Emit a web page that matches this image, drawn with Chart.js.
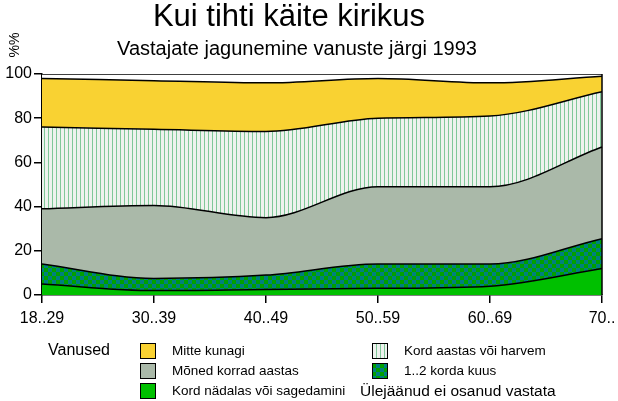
<!DOCTYPE html>
<html>
<head>
<meta charset="utf-8">
<script src="https://cdn.jsdelivr.net/npm/chart.js@4/dist/chart.umd.min.js"></script>
<style>
  html, body { margin: 0; padding: 0; background: #fff; }
  #wrap { width: 618px; height: 401px; }
</style>
</head>
<body>
<div id="wrap"><canvas id="c" width="618" height="401"></canvas></div>
<script>
const ages = ["18..29", "30..39", "40..49", "50..59", "60..69", "70.."];

// shares per age group, %
const weekly = [5, 2, 2.5, 3, 4, 12];          // Kord nädalas või sagedamini
const monthly = [9, 5.5, 6.5, 11, 10, 13.5];    // 1..2 korda kuus
const fewTimes = [25, 33, 26, 35, 35, 41.5];    // Mõned korrad aastas
const yearly = [37, 34.5, 39, 31, 32, 25];      // Kord aastas või harvem
const never = [22, 22, 22, 18, 15, 7];          // Mitte kunagi
const noAnswer = [2, 3, 4, 2, 4, 1];            // Ülejäänud ei osanud vastata

const yTicks = [0, 20, 40, 60, 80, 100];

const FONT = "'Liberation Sans', Arial, sans-serif";

function makePattern(w, h, draw) {
  const c = document.createElement("canvas");
  c.width = w; c.height = h;
  const g = c.getContext("2d");
  draw(g);
  return g.createPattern(c, "repeat");
}

const fills = {
  never: "#f9d232",
  yearly: makePattern(4, 1, (g) => {
    g.fillStyle = "#eef2ee"; g.fillRect(0, 0, 4, 1);
    g.fillStyle = "#80c898"; g.fillRect(0, 0, 1, 1);
  }),
  fewTimes: "#aab9a9",
  monthly: makePattern(8, 8, (g) => {
    g.fillStyle = "#00a000"; g.fillRect(0, 0, 8, 8);
    g.fillStyle = "#008080"; g.fillRect(4, 0, 4, 4); g.fillRect(0, 4, 4, 4);
  }),
  weekly: "#00c000",
  noAnswer: "#ffffff",
};

function ds(label, data, bg, fill) {
  return {
    label, data, backgroundColor: bg, fill,
    borderColor: "#000", borderWidth: 1.5,
    pointRadius: 0, cubicInterpolationMode: "monotone",
  };
}

const extras = {
  id: "extras",
  afterDatasetsDraw(chart) {
    const { ctx, chartArea: a } = chart;
    ctx.save();
    ctx.strokeStyle = "#000";
    ctx.lineWidth = 1.5;
    ctx.beginPath();
    ctx.moveTo(a.right, a.top);
    ctx.lineTo(a.right, a.bottom);
    ctx.stroke();
    ctx.restore();
  },
  afterDraw(chart) {
    const { ctx } = chart;
    ctx.save();
    ctx.fillStyle = "#000";
    ctx.textBaseline = "middle";
    ctx.textAlign = "center";
    ctx.font = "31px " + FONT;
    ctx.fillText("Kui tihti käite kirikus", 289, 17);
    ctx.font = "20px " + FONT;
    ctx.fillText("Vastajate jagunemine vanuste järgi 1993", 297, 49);

    ctx.save();
    ctx.translate(15, 45);
    ctx.rotate(-Math.PI / 2);
    ctx.font = "14px " + FONT;
    ctx.fillText("%%", 0, 0);
    ctx.restore();

    ctx.textAlign = "left";
    ctx.font = "16px " + FONT;
    ctx.fillText("Vanused", 48, 351);

    const items = [
      [140, 343, fills.never, "Mitte kunagi"],
      [140, 363, fills.fewTimes, "Mõned korrad aastas"],
      [140, 383, fills.weekly, "Kord nädalas või sagedamini"],
      [372, 343, fills.yearly, "Kord aastas või harvem"],
      [372, 363, fills.monthly, "1..2 korda kuus"],
    ];
    ctx.font = "13.5px " + FONT;
    items.forEach(([x, y, f, t]) => {
      ctx.fillStyle = f;
      ctx.fillRect(x, y, 15, 15);
      ctx.strokeStyle = "#000";
      ctx.lineWidth = 1;
      ctx.strokeRect(x + 0.5, y + 0.5, 15, 15);
      ctx.fillStyle = "#000";
      ctx.fillText(t, x + 32, y + 8);
    });
    ctx.font = "15.5px " + FONT;
    ctx.fillText("Ülejäänud ei osanud vastata", 360, 392);
    ctx.restore();
  },
};

new Chart(document.getElementById("c"), {
  type: "line",
  data: {
    labels: ages,
    datasets: [
      ds("Kord nädalas või sagedamini", weekly, fills.weekly, "origin"),
      ds("1..2 korda kuus", monthly, fills.monthly, "-1"),
      ds("Mõned korrad aastas", fewTimes, fills.fewTimes, "-1"),
      ds("Kord aastas või harvem", yearly, fills.yearly, "-1"),
      ds("Mitte kunagi", never, fills.never, "-1"),
      ds("Ülejäänud ei osanud vastata", noAnswer, fills.noAnswer, "-1"),
    ],
  },
  options: {
    responsive: false,
    animation: false,
    devicePixelRatio: 1,
    layout: { padding: { top: 74, right: 16, left: 0, bottom: 0 } },
    plugins: { legend: { display: false }, title: { display: false }, tooltip: { enabled: false } },
    scales: {
      x: {
        offset: false,
        grid: { drawOnChartArea: false, drawTicks: true, tickLength: 8, color: "#000", lineWidth: 1.5 },
        border: { color: "#000", width: 1.5 },
        ticks: { color: "#000", font: { family: FONT, size: 16 }, maxRotation: 0, padding: 6 },
        afterFit(s) { s.height = 106; s.paddingLeft = 0; s.paddingRight = 0; },
      },
      y: {
        stacked: true,
        min: 0, max: 100,
        afterBuildTicks(s) { s.ticks = yTicks.map((v) => ({ value: v })); },
        grid: { drawOnChartArea: false, drawTicks: true, tickLength: 8, color: "#000", lineWidth: 1.5 },
        border: { color: "#000", width: 1.5 },
        ticks: { color: "#000", font: { family: FONT, size: 16 }, padding: 2 },
        afterFit(s) { s.width = 42; s.paddingTop = 0; s.paddingBottom = 0; },
      },
    },
  },
  plugins: [extras],
});
</script>
</body>
</html>
